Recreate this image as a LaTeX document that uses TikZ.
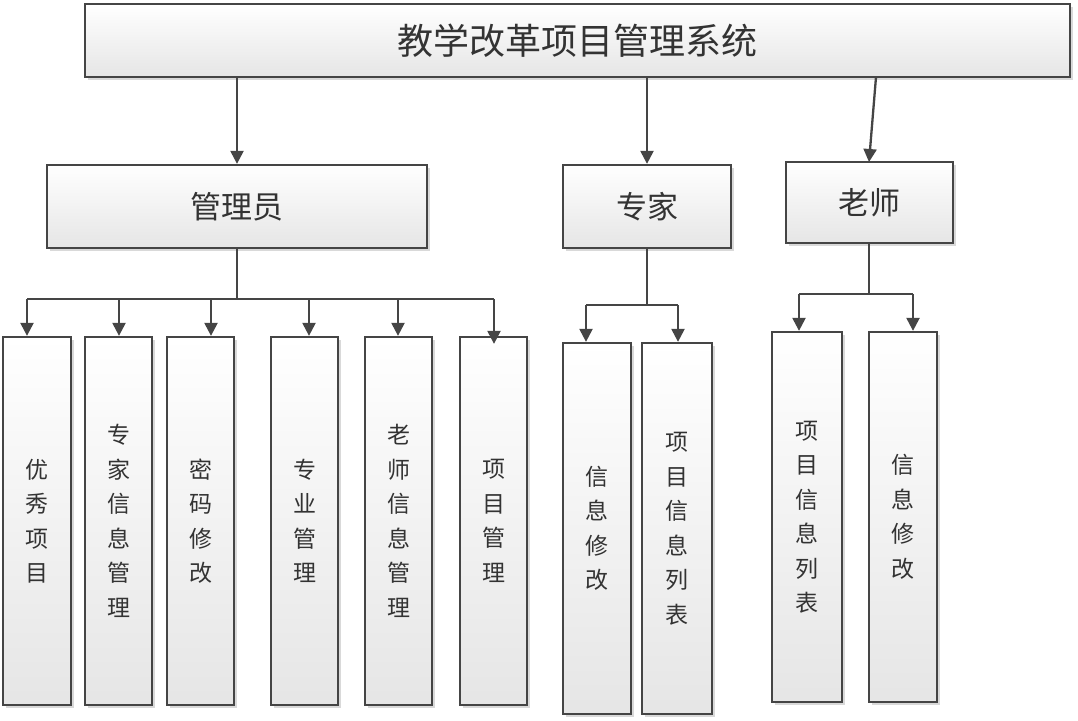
\documentclass[tikz,border=0pt]{standalone}
\usepackage{fontspec}
\newfontfamily\cjk{Noto Sans CJK SC}
\usetikzlibrary{arrows.meta,shadows,calc}
\definecolor{lc}{HTML}{454545}
\definecolor{tc}{HTML}{333333}
\tikzset{
  boxstyle/.style={rectangle, draw=lc, line width=2.3pt, top color=white, bottom color=black!10,
    inner sep=0pt, align=center, text=tc,
    drop shadow={shadow xshift=2.5pt, shadow yshift=-2.5pt, fill=black!25, opacity=.6}},
  bigbox/.style={boxstyle, font=\cjk\fontsize{31}{36}\selectfont},
  vbox/.style={boxstyle, font=\cjk\fontsize{23}{34.5}\selectfont},
  arr/.style={draw=lc, line width=2.3pt, -{Triangle[width=13pt,length=13pt]}},
  ln/.style={draw=lc, line width=2.3pt}
}
\begin{document}
\begin{tikzpicture}[x=1pt,y=-1pt]
\useasboundingbox (0,0) rectangle (1078,720);
% top
\node[bigbox, minimum width=985pt, minimum height=73pt, font=\cjk\fontsize{36}{40}\selectfont] (top) at (577.5,40.5) {教学改革项目管理系统};
% second level
\node[bigbox, minimum width=380pt, minimum height=83pt] (admin) at (237,206.5) {管理员};
\node[bigbox, minimum width=168pt, minimum height=83pt] (expert) at (647,206.5) {专家};
\node[bigbox, minimum width=167pt, minimum height=81pt] (teacher) at (869.5,202.5) {老师};
% admin children
\node[vbox, minimum width=68pt, minimum height=368pt] (a1) at (37,521) {优\\秀\\项\\目};
\node[vbox, minimum width=67pt, minimum height=368pt] (a2) at (118.5,521) {专\\家\\信\\息\\管\\理};
\node[vbox, minimum width=67pt, minimum height=368pt] (a3) at (200.5,521) {密\\码\\修\\改};
\node[vbox, minimum width=67pt, minimum height=368pt] (a4) at (304.5,521) {专\\业\\管\\理};
\node[vbox, minimum width=67pt, minimum height=368pt] (a5) at (398.5,521) {老\\师\\信\\息\\管\\理};
\node[vbox, minimum width=67pt, minimum height=368pt] (a6) at (493.5,521) {项\\目\\管\\理};
% expert children
\node[vbox, minimum width=68pt, minimum height=371pt] (e1) at (597,528.5) {信\\息\\修\\改};
\node[vbox, minimum width=70pt, minimum height=371pt] (e2) at (677,528.5) {项\\目\\信\\息\\列\\表};
% teacher children
\node[vbox, minimum width=70pt, minimum height=370pt] (t1) at (807,517) {项\\目\\信\\息\\列\\表};
\node[vbox, minimum width=68pt, minimum height=370pt] (t2) at (903,517) {信\\息\\修\\改};
% top arrows
\draw[arr] (top.south -| admin.north) -- (admin.north);
\draw[arr] (top.south -| expert.north) -- (expert.north);
\coordinate (tt) at (876,77);
\coordinate (th) at (869,162);
\draw[arr] (tt) -- (th);
% admin bus
\coordinate (ab) at (237,299);
\coordinate (b1) at (27,299);
\coordinate (b2) at (119,299);
\coordinate (b3) at (211,299);
\coordinate (b4) at (309,299);
\coordinate (b5) at (398,299);
\coordinate (b6) at (494,299);
\draw[ln] (admin.south) -- (ab);
\draw[ln] (b1) -- (b6);
\draw[arr] (b1) -- (b1 |- a1.north);
\draw[arr] (b2) -- (b2 |- a2.north);
\draw[arr] (b3) -- (b3 |- a3.north);
\draw[arr] (b4) -- (b4 |- a4.north);
\draw[arr] (b5) -- (b5 |- a5.north);
\draw[arr] (b6) -- ($(b6 |- a6.north)+(0,8)$);
% expert bus
\coordinate (eb) at (647,305);
\coordinate (c1) at (586,305);
\coordinate (c2) at (678,305);
\draw[ln] (expert.south) -- (eb);
\draw[ln] (c1) -- (c2);
\draw[arr] (c1) -- (c1 |- e1.north);
\draw[arr] (c2) -- (c2 |- e2.north);
% teacher bus
\coordinate (ts) at (869,243);
\coordinate (tb) at (869,294);
\coordinate (d1) at (799,294);
\coordinate (d2) at (913,294);
\draw[ln] (ts) -- (tb);
\draw[ln] (d1) -- (d2);
\draw[arr] (d1) -- (d1 |- t1.north);
\draw[arr] (d2) -- (d2 |- t2.north);
\end{tikzpicture}
\end{document}
